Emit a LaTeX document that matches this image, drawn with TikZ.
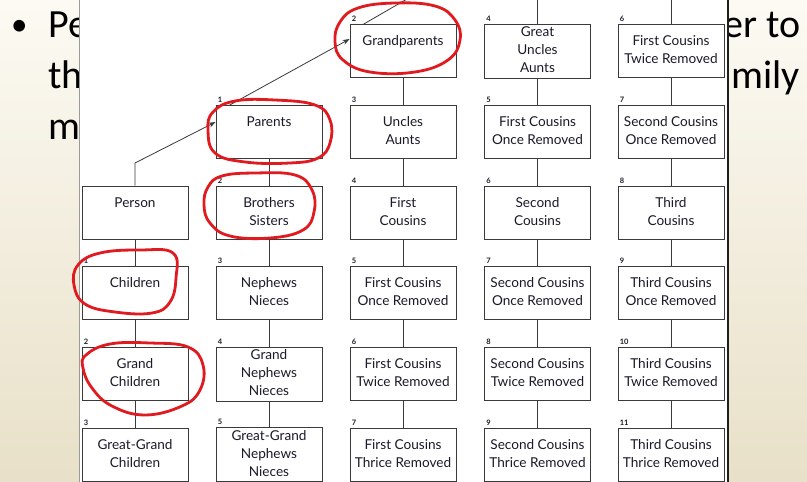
\documentclass[tikz,border=0pt]{standalone}
\usepackage{fontspec}
\newfontfamily\boxfont{Lato}
\newfontfamily\slidefont{Carlito}
\usetikzlibrary{arrows.meta}
\definecolor{bgtop}{HTML}{FCFAF3}
\definecolor{bgbot}{HTML}{E8E0C8}
\definecolor{linec}{HTML}{3A3A3A}
\definecolor{textc}{HTML}{1A1A28}
\definecolor{markred}{HTML}{E01A1F}
\definecolor{panelleft}{HTML}{9A9A9A}
\definecolor{paneldark}{HTML}{1E1E1E}
\newcommand\kinbox[5]{%
  \node[kin] (#1) at (#2,#3) {#5};
  \node[num] at (#1.north west) {#4};}
\begin{document}
\begin{tikzpicture}[x=1pt,y=-1pt,
  kin/.style={draw=linec, line width=0.8pt, fill=white, minimum width=106pt,
    minimum height=53pt, inner sep=0pt, align=center, text=textc,
    font=\boxfont\fontsize{13.6}{18}\selectfont},
  num/.style={anchor=south west, inner sep=0pt, xshift=2pt, yshift=2pt,
    text=textc, font=\boxfont\bfseries\fontsize{7.5}{9}\selectfont},
  conn/.style={draw=linec, line width=0.8pt},
  arrowline/.style={conn, -{Stealth[length=7pt,width=5pt]}},
  redmark/.style={draw=markred, line width=2.8pt, line cap=round, line join=round},
  slide/.style={inner sep=0pt, text=black, font=\slidefont\fontsize{40}{48}\selectfont}]
\useasboundingbox (0,0) rectangle (807,482);
\shade[top color=bgtop, bottom color=bgbot] (0,0) rectangle (807,482);
% slide text behind the panel
\node[slide, anchor=base west, font=\slidefont\fontsize{33}{40}\selectfont] (bul) at (11,35) {•};
\node[slide, anchor=base west] (t1) at (48,37) {Pe};
\node[slide, anchor=base west] (t2) at (48,88) {th};
\node[slide, anchor=base west] (t3) at (48,139) {m};
\node[slide, anchor=base east] (t4) at (801,37) {er to};
\node[slide, anchor=base east] (t5) at (800,88) {mily};
% panel
\fill[white] (79,-2) rectangle (728,484);
\draw[panelleft, line width=0.8pt] (79,-2) -- (79,484);
\draw[paneldark, line width=2.6pt] (728,-2) -- (728,484);
% boxes
\kinbox{c2r0}{403}{51}{2}{\strut Grandparents\\\strut}
\kinbox{c3r0}{537.5}{51}{4}{\strut Great\\\strut Uncles\\\strut Aunts}
\kinbox{c4r0}{671}{51}{6}{\strut First Cousins\\\strut Twice Removed}
\kinbox{c1r1}{269}{132}{1}{\strut Parents\\\strut}
\kinbox{c2r1}{403}{132}{3}{\strut Uncles\\\strut Aunts}
\kinbox{c3r1}{537.5}{132}{5}{\strut First Cousins\\\strut Once Removed}
\kinbox{c4r1}{671}{132}{7}{\strut Second Cousins\\\strut Once Removed}
\node[kin] (c0r2) at (135,212.5) {\strut Person\\\strut};
\kinbox{c1r2}{269}{212.5}{2}{\strut Brothers\\\strut Sisters}
\kinbox{c2r2}{403}{212.5}{4}{\strut First\\\strut Cousins}
\kinbox{c3r2}{537.5}{212.5}{6}{\strut Second\\\strut Cousins}
\kinbox{c4r2}{671}{212.5}{8}{\strut Third\\\strut Cousins}
\kinbox{c0r3}{135}{293}{1}{\strut Children\\\strut}
\kinbox{c1r3}{269}{293}{3}{\strut Nephews\\\strut Nieces}
\kinbox{c2r3}{403}{293}{5}{\strut First Cousins\\\strut Once Removed}
\kinbox{c3r3}{537.5}{293}{7}{\strut Second Cousins\\\strut Once Removed}
\kinbox{c4r3}{671}{293}{9}{\strut Third Cousins\\\strut Once Removed}
\kinbox{c0r4}{135}{374}{2}{\strut Grand\\\strut Children}
\kinbox{c1r4}{269}{374}{4}{\strut Grand\\\strut Nephews\\\strut Nieces}
\kinbox{c2r4}{403}{374}{6}{\strut First Cousins\\\strut Twice Removed}
\kinbox{c3r4}{537.5}{374}{8}{\strut Second Cousins\\\strut Twice Removed}
\kinbox{c4r4}{671}{374}{10}{\strut Third Cousins\\\strut Twice Removed}
\kinbox{c0r5}{135}{454.5}{3}{\strut Great-Grand\\\strut Children}
\kinbox{c1r5}{269}{454.5}{5}{\strut Great-Grand\\\strut Nephews\\\strut Nieces}
\kinbox{c2r5}{403}{454.5}{7}{\strut First Cousins\\\strut Thrice Removed}
\kinbox{c3r5}{537.5}{454.5}{9}{\strut Second Cousins\\\strut Thrice Removed}
\kinbox{c4r5}{671}{454.5}{11}{\strut Third Cousins\\\strut Thrice Removed}
% vertical connectors
\foreach \a/\b in {c0r2/c0r3,c0r3/c0r4,c0r4/c0r5,
  c1r1/c1r2,c1r2/c1r3,c1r3/c1r4,c1r4/c1r5,
  c2r0/c2r1,c2r1/c2r2,c2r2/c2r3,c2r3/c2r4,c2r4/c2r5,
  c3r0/c3r1,c3r1/c3r2,c3r2/c3r3,c3r3/c3r4,c3r4/c3r5,
  c4r0/c4r1,c4r1/c4r2,c4r2/c4r3,c4r3/c4r4,c4r4/c4r5}
  \draw[conn] (\a.south) -- (\b.north);
\coordinate (top3) at (537.5,-2);
\coordinate (top4) at (671,-2);
\draw[conn] (c3r0.north) -- (top3);
\draw[conn] (c4r0.north) -- (top4);
% ancestry arrows
\coordinate (bend) at (135,163);
\coordinate (offtop) at (414,-5);
\draw[arrowline] (c0r2.north) -- (bend) -- ([yshift=10pt]c1r1.west);
\draw[arrowline] ([xshift=14pt]c1r1.north west) -- ([yshift=12pt]c2r0.west);
\draw[conn] ([xshift=14pt]c2r0.north west) -- (offtop);
% red hand-drawn marks
\draw[redmark] plot[smooth cycle, tension=0.7] coordinates {(340,22) (358,8) (395,3) (435,6) (455,20) (460,40) (448,60) (415,72) (370,72) (343,60) (335,42)};
\draw[redmark] plot[smooth cycle, tension=0.7] coordinates {(208,130) (213,112) (235,101) (275,100) (315,105) (330,120) (330,143) (318,158) (290,163) (245,162) (215,153)};
\draw[redmark] plot[smooth cycle, tension=0.7] coordinates {(204,205) (208,187) (222,176) (255,173) (295,175) (312,190) (314,212) (303,230) (270,238) (230,236) (210,223)};
\draw[redmark] plot[smooth cycle, tension=0.7] coordinates {(74,285) (78,265) (100,253) (140,250) (173,253) (176,278) (170,302) (152,313) (115,312) (85,304)};
\draw[redmark] plot[smooth cycle, tension=0.7] coordinates {(86,355) (110,344) (150,343) (188,347) (203,365) (200,390) (182,406) (145,415) (112,406) (92,388) (83,368)};
\end{tikzpicture}
\end{document}
